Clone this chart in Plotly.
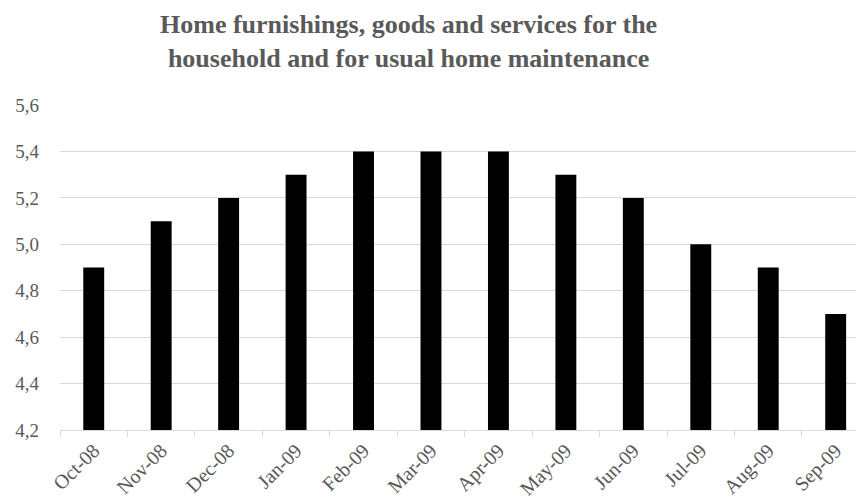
import plotly.graph_objects as go

months = ["Oct-08", "Nov-08", "Dec-08", "Jan-09", "Feb-09", "Mar-09",
          "Apr-09", "May-09", "Jun-09", "Jul-09", "Aug-09", "Sep-09"]
values = [4.9, 5.1, 5.2, 5.3, 5.4, 5.4, 5.4, 5.3, 5.2, 5.0, 4.9, 4.7]
title_text = "Home furnishings, goods and services for the<br>household and for usual home maintenance"

GRAY = "#595959"
GRID = "#d9d9d9"

fig = go.Figure(go.Bar(x=months, y=values, marker=dict(color="#000000", line=dict(width=0)),
                       width=0.31))

# the page body has an 8px margin; plot area in page px: x 60..870 (cut at 864), y 105..430
fig.update_layout(
    width=864, height=502,
    margin=dict(l=52, r=8, t=97, b=80, autoexpand=False),
    paper_bgcolor="white", plot_bgcolor="white",
    separators=",.",
    showlegend=False,
    font=dict(family="Liberation Serif", size=19, color=GRAY),
)
fig.add_annotation(
    text=title_text, xref="paper", yref="paper",
    x=(408 - 60) / 804, y=1 + (105 - 9) / 325, xanchor="center", yanchor="top",
    showarrow=False, align="center", borderpad=0,
    font=dict(family="Liberation Serif", size=26, color=GRAY, weight="bold"),
)
fig.update_xaxes(
    type="category", range=[-0.5, 11.42], tickangle=-45,
    showline=True, linecolor=GRID, linewidth=1,
    ticks="outside", ticklen=6, tickcolor=GRID, tickson="boundaries",
    showgrid=False, automargin=False,
    tickfont=dict(family="Liberation Serif", size=20, color=GRAY),
)
fig.update_yaxes(
    range=[4.2, 5.6005], dtick=0.2, tick0=4.2, tickformat=".1f",
    showgrid=True, gridcolor=GRID, gridwidth=1, zeroline=False,
    ticks="", ticklabelstandoff=20, automargin=False,
    tickfont=dict(family="Liberation Serif", size=19, color=GRAY),
)

fig.write_html("out.html")
